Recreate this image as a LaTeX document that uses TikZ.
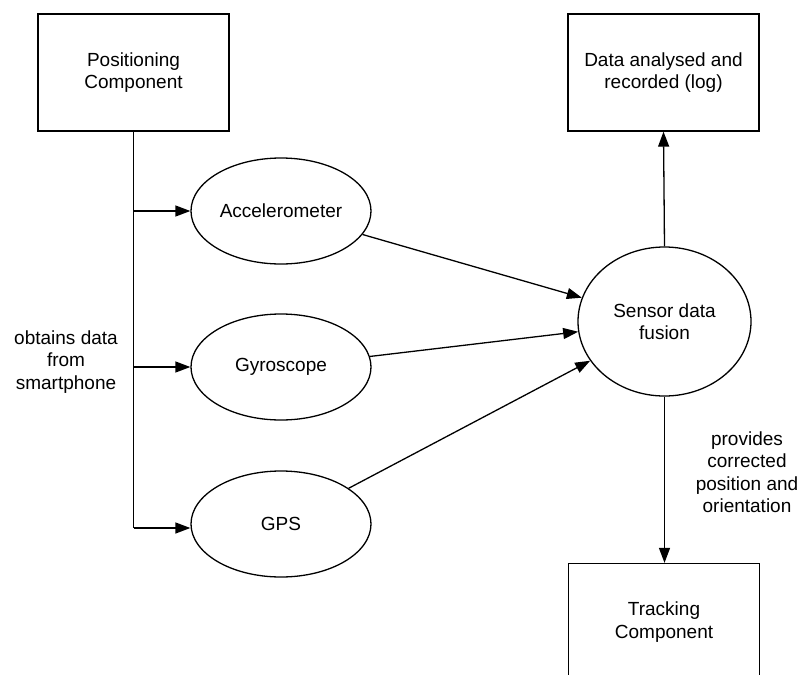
\documentclass[tikz,border=0pt]{standalone}
\usepackage{fontspec}
\setmainfont{Liberation Sans}
\usetikzlibrary{shapes.geometric,arrows.meta}
\begin{document}
\begin{tikzpicture}[x=1pt,y=-1pt,
  every node/.style={font=\fontsize{19}{22.5}\selectfont, text=black, align=center},
  box/.style={draw, line width=1.3pt, minimum width=191pt, minimum height=117pt, inner sep=0pt},
  oval/.style={draw, ellipse, line width=1.3pt, minimum width=180pt, minimum height=106pt, inner sep=0pt},
  conn/.style={line width=1.3pt, -{Triangle[length=15pt,width=11pt]}},
  wire/.style={line width=1.3pt},
]
\useasboundingbox (0,0) rectangle (801,675);

% components and sensors
\node[box] (pos) at (133.5,72.5) {Positioning\\Component};
\node[box] (log) at (663.5,72.5) {Data analysed and\\recorded (log)};
\node[box] (trk) at (664,622) {Tracking\\Component};

\node[oval] (acc) at (281,211) {Accelerometer};
\node[oval] (gyr) at (281,367) {Gyroscope};
\node[oval] (gps) at (281,524) {GPS};
\node[oval, minimum width=173pt, minimum height=149pt] (fus) at (664.5,321.5) {Sensor data\\fusion};

% branch points on the vertical trunk
\coordinate (jA) at (133.5,211);
\coordinate (jY) at (133.5,367);
\coordinate (jG) at (133.5,528);

\draw[wire] (pos.south) -- (jG);
\draw[conn] (jA) -- (acc.west);
\draw[conn] (jY) -- (gyr.west);
\draw[conn] (jG) -- (jG -| gps.west);

% sensor outputs into the fusion stage
\draw[conn] (acc) -- (fus);
\draw[conn] (gyr) -- (fus);
\draw[conn] (gps) -- (fus);

\draw[conn] (fus.north) -- (log.south);
\draw[conn] (fus.south) -- (fus.south |- trk.north);

% labels
\node (lobt) at (66,362) {obtains data\\from\\smartphone};
\node (lprov) at (747,472) {provides\\corrected\\position and\\orientation};
\end{tikzpicture}
\end{document}
